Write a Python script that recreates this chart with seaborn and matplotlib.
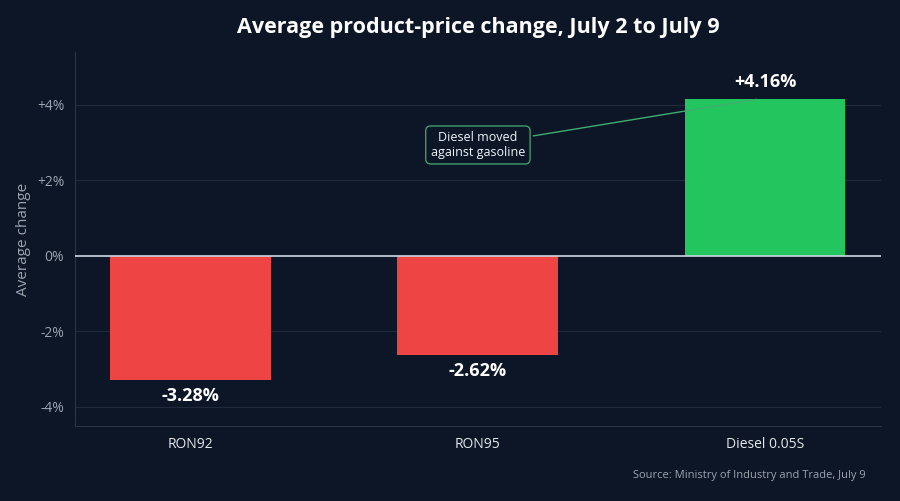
import matplotlib
matplotlib.use("Agg")
import matplotlib.pyplot as plt
import seaborn as sns
import pandas as pd

# Data
products = ["RON92", "RON95", "Diesel 0.05S"]
changes = [-3.28, -2.62, 4.16]
bar_colors = ["#ef4444", "#ef4444", "#22c55e"]
y_ticks = [-4, -2, 0, 2, 4]
y_tick_labels = ["-4%", "-2%", "0%", "+2%", "+4%"]

bg = "#0c1627"
sns.set_theme(style="dark")
plt.rcParams["font.family"] = ["Open Sans", "DejaVu Sans"]

df = pd.DataFrame({"product": products, "change": changes})

fig, ax = plt.subplots(figsize=(9, 5.01), dpi=100)
fig.patch.set_facecolor(bg)
ax.set_facecolor(bg)

sns.barplot(data=df, x="product", y="change", hue="product", palette=bar_colors,
            width=0.56, legend=False, ax=ax, saturation=1, linewidth=0, edgecolor="none")

ax.set_xlim(-0.404, 2.404)
ax.set_ylim(-4.5, 5.4)
ax.set_yticks(y_ticks)
ax.set_yticklabels(y_tick_labels)
ax.grid(axis="y", color="#1f2a3c", linewidth=0.8)
ax.set_axisbelow(True)
ax.axhline(0, color="#cbd5e1", linewidth=1.2, zorder=3)

for spine in ["top", "right"]:
    ax.spines[spine].set_visible(False)
for spine in ["left", "bottom"]:
    ax.spines[spine].set_color("#2b3547")
    ax.spines[spine].set_linewidth(0.8)

ax.tick_params(axis="y", colors="#9ca3af", labelsize=10, length=4, color="#2b3547")
ax.tick_params(axis="x", colors="#e5e7eb", labelsize=10, length=0, pad=8)
ax.set_xlabel("")
ax.set_ylabel("Average change", color="#9ca3af", fontsize=11)

# value labels
for i, v in enumerate(changes):
    txt = f"{v:+.2f}%"
    if v >= 0:
        ax.annotate(txt, (i, v), xytext=(0, 6), textcoords="offset points",
                    ha="center", va="bottom", color="white", fontsize=13, fontweight="bold")
    else:
        ax.annotate(txt, (i, v), xytext=(0, -5), textcoords="offset points",
                    ha="center", va="top", color="white", fontsize=13, fontweight="bold")

ax.annotate("Diesel moved\nagainst gasoline", xy=(1.98, 4.16), xytext=(1.0, 2.94),
            ha="center", va="center", color="#f1f5f9", fontsize=9,
            bbox=dict(boxstyle="round,pad=0.4", fc=bg, ec="#3f9d6a", lw=1),
            arrowprops=dict(arrowstyle="-", color="#3fae6f", lw=1))

ax.set_title("Average product-price change, July 2 to July 9", color="white",
             fontsize=15.5, fontweight="bold", pad=14)
fig.text(0.962, 0.05, "Source: Ministry of Industry and Trade, July 9", ha="right",
         va="center", color="#9ca3af", fontsize=8)

fig.subplots_adjust(left=0.083, right=0.979, top=0.896, bottom=0.15)
fig.savefig("out.png", dpi=100, facecolor=bg)
